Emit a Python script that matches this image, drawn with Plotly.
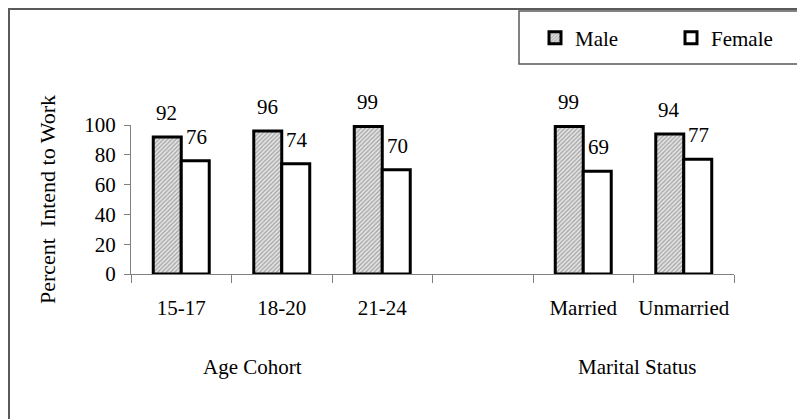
import plotly.graph_objects as go

categories = ["15-17", "18-20", "21-24", " ", "Married", "Unmarried"]
male = [92, 96, 99, None, 99, 94]
female = [76, 74, 70, None, 69, 77]
series_names = ["Male", "Female"]
group_labels = ["Age Cohort", "Marital Status"]
y_ticks = [0, 20, 40, 60, 80, 100]

# page offset (body margin) compensation
OFF = 8
W, H = 805, 419
L, T = 131 - OFF, 125 - OFF
pw, ph = 603, 149
R, B = W - L - pw, H - T - ph


def px_x(p):
    return (p - OFF - L) / pw


def px_y(p):
    return (T + ph - (p - OFF)) / ph


FONT = "Liberation Serif"
FS = 21

fig = go.Figure()
fig.add_trace(go.Bar(
    name=series_names[0], x=categories, y=male,
    marker=dict(color="#e0e0e0", line=dict(color="black", width=3),
                pattern=dict(shape="/", fgcolor="#606060", bgcolor="#e4e4e4",
                             size=3, solidity=0.4)),
))
fig.add_trace(go.Bar(
    name=series_names[1], x=categories, y=female,
    marker=dict(color="white", line=dict(color="black", width=3)),
))

annotations = []
half = 14.75
for cat, m, f in zip(categories, male, female):
    if m is not None:
        annotations.append(dict(x=cat, y=m, xref="x", yref="y", text=str(m),
                                showarrow=False, xshift=-half, yshift=24,
                                font=dict(size=FS, family=FONT, color="black")))
    if f is not None:
        annotations.append(dict(x=cat, y=f, xref="x", yref="y", text=str(f),
                                showarrow=False, xshift=half, yshift=24,
                                font=dict(size=FS, family=FONT, color="black")))

for lab, xp in zip(group_labels, [252.5, 637]):
    annotations.append(dict(x=px_x(xp), y=px_y(367), xref="paper", yref="paper",
                            text=lab, showarrow=False, xanchor="center", yanchor="middle",
                            font=dict(size=FS, family=FONT, color="black")))

frame_col = "#5a5a5a"
shapes = [
    dict(type="line", xref="paper", yref="paper", x0=px_x(9), x1=px_x(9),
         y0=px_y(8), y1=px_y(440), line=dict(color=frame_col, width=2)),
    dict(type="line", xref="paper", yref="paper", x0=px_x(9), x1=px_x(830),
         y0=px_y(9), y1=px_y(9), line=dict(color=frame_col, width=2)),
    dict(type="rect", xref="paper", yref="paper", x0=px_x(519), x1=px_x(840),
         y0=px_y(64), y1=px_y(11), line=dict(color=frame_col, width=1.5)),
]

fig.update_layout(
    width=W, height=H,
    margin=dict(l=L, r=R, t=T, b=B, autoexpand=False),
    paper_bgcolor="white", plot_bgcolor="white",
    barmode="group", bargap=0.443, bargroupgap=0,
    font=dict(family=FONT, size=FS, color="black"),
    showlegend=True,
    legend=dict(orientation="h", x=px_x(535), xanchor="left", y=px_y(38), yanchor="middle",
                font=dict(size=FS, family=FONT, color="black"),
                bgcolor="rgba(0,0,0,0)", borderwidth=0,
                entrywidth=91, entrywidthmode="pixels", traceorder="normal"),
    annotations=annotations,
    shapes=shapes,
    xaxis=dict(type="category", categoryorder="array", categoryarray=categories,
               range=[-0.5, len(categories) - 0.5],
               showline=True, linecolor="#808080", linewidth=1,
               ticks="outside", tickson="boundaries", ticklen=8, tickcolor="#808080",
               tickwidth=1, showgrid=False, ticklabelstandoff=15,
               tickfont=dict(size=FS, family=FONT, color="black"), fixedrange=True),
    yaxis=dict(range=[0, 100], tickvals=y_ticks, showline=True, linecolor="#808080",
               linewidth=1, ticks="outside", ticklen=6, tickcolor="#808080",
               showgrid=False, zeroline=False, ticklabelstandoff=4,
               tickfont=dict(size=FS, family=FONT, color="black"),
               title=dict(text="Percent\u00a0 Intend to Work", standoff=22,
                          font=dict(size=22, family=FONT, color="black"))),
)

fig.write_html("out.html")
